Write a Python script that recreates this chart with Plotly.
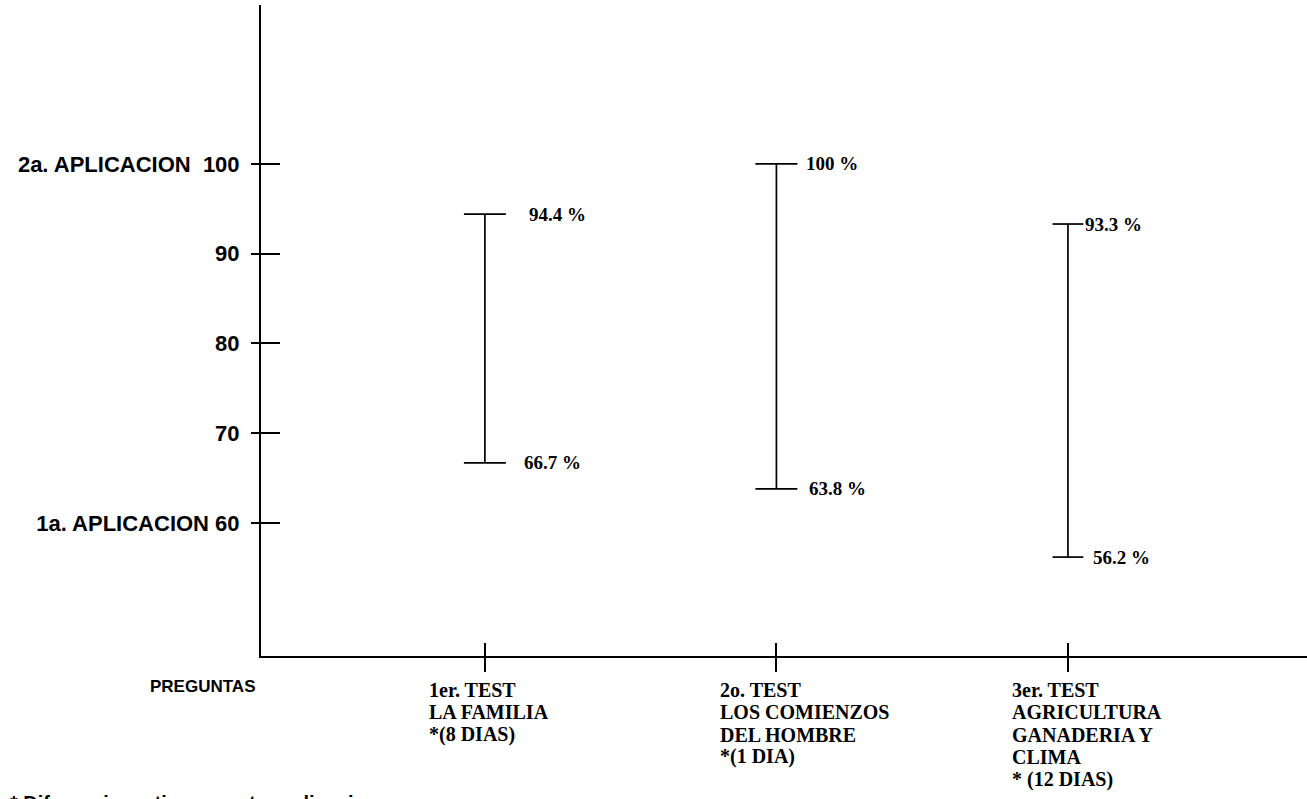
import plotly.graph_objects as go

# ---- data ----
tests = ["1er. TEST", "2o. TEST", "3er. TEST"]
test_pos = [1, 2, 3]
test_label_lines = [
    ["1er. TEST", "LA FAMILIA", "*(8 DIAS)"],
    ["2o. TEST", "LOS COMIENZOS", "DEL HOMBRE", "*(1 DIA)"],
    ["3er. TEST", "AGRICULTURA", "GANADERIA Y", "CLIMA", "* (12 DIAS)"],
]
primera = [66.7, 63.8, 56.2]   # 1a. aplicacion
segunda = [94.4, 100.0, 93.3]  # 2a. aplicacion
y_ticks = [60, 70, 80, 90, 100]
y_ticktext = ["1a. APLICACION 60", "70", "80", "90", "2a. APLICACION\u00a0\u00a0100"]
x_title = "PREGUNTAS"
footnote = "* Diferencia en tiempo entre aplicaciones"

# ---- style ----
cap_sizes = [30, 30, 22]
hi_shift = [42, 28, 15]
lo_shift = [37, 31, 23]
serif = "Liberation Serif, Times New Roman, serif"
sans = "Liberation Sans, Arial, sans-serif"
XR = [0.232, 3.82]
YR = [45.18, 117.7]

fig = go.Figure()
for i in range(len(tests)):
    fig.add_trace(go.Scatter(
        x=[test_pos[i], test_pos[i]], y=[primera[i], segunda[i]],
        mode="lines+markers",
        line=dict(color="black", width=1.7),
        marker=dict(symbol="line-ew", size=cap_sizes[i], color="black",
                    line=dict(color="black", width=1.7)),
        showlegend=False, hoverinfo="skip",
    ))
    fig.add_annotation(x=test_pos[i], y=segunda[i], text=f"<b>{segunda[i]:g} %</b>",
                       showarrow=False, xanchor="left", yanchor="middle", xshift=hi_shift[i],
                       font=dict(family=serif, size=19, color="black"))
    fig.add_annotation(x=test_pos[i], y=primera[i], text=f"<b>{primera[i]:g} %</b>",
                       showarrow=False, xanchor="left", yanchor="middle", xshift=lo_shift[i],
                       font=dict(family=serif, size=19, color="black"))
    for j, line in enumerate(test_label_lines[i]):
        fig.add_annotation(x=test_pos[i], y=0, xref="x", yref="paper",
                           text=f"<b>{line}</b>", showarrow=False,
                           xanchor="left", yanchor="middle", borderpad=0,
                           xshift=-57, yshift=-34 - 22.3 * j,
                           font=dict(family=serif, size=20, color="black"))

# invisible trace for overlay axes
fig.add_trace(go.Scatter(x=[test_pos[0]], y=[y_ticks[0]], xaxis="x2", yaxis="y2",
                         mode="markers", marker=dict(opacity=0), showlegend=False,
                         hoverinfo="skip"))

fig.add_annotation(x=-0.108, y=0, xref="paper", yref="paper", xanchor="left", yanchor="middle",
                   text=f"<b>{x_title}</b>", showarrow=False, yshift=-30,
                   font=dict(family=sans, size=17, color="black"))
fig.add_annotation(x=-0.242, y=0, xref="paper", yref="paper", xanchor="left", yanchor="top",
                   text=f"<b>{footnote}</b>", showarrow=False, yshift=-134,
                   font=dict(family=sans, size=20, color="black"))

fig.update_layout(
    width=1307, height=799,
    margin=dict(l=261, r=0, t=5, b=143),
    paper_bgcolor="white", plot_bgcolor="white",
    xaxis=dict(range=XR, tickvals=test_pos, showticklabels=False, ticks="outside",
               ticklen=14, tickwidth=1.5, tickcolor="black", showline=True,
               linecolor="black", linewidth=2, showgrid=False, zeroline=False),
    xaxis2=dict(range=XR, overlaying="x", anchor="y", side="bottom", tickvals=test_pos,
                showticklabels=False, ticks="inside", ticklen=13, tickwidth=1.5,
                tickcolor="black", showline=False, showgrid=False, zeroline=False),
    yaxis=dict(range=YR, tickvals=y_ticks, ticktext=[f"<b>{t}</b>" for t in y_ticktext],
               ticks="outside", ticklen=8, tickwidth=1.5, tickcolor="black",
               ticklabelstandoff=7,
               tickfont=dict(family=sans, size=22, color="black"),
               showline=True, linecolor="black", linewidth=2, showgrid=False, zeroline=False),
    yaxis2=dict(range=YR, overlaying="y", anchor="x", side="left", tickvals=y_ticks,
                showticklabels=False, ticks="inside", ticklen=19, tickwidth=1.5,
                tickcolor="black", showline=False, showgrid=False, zeroline=False),
)

fig.write_html("out.html", config={"displayModeBar": False},
               post_script="document.body.style.margin='0';document.body.style.overflow='hidden';")
